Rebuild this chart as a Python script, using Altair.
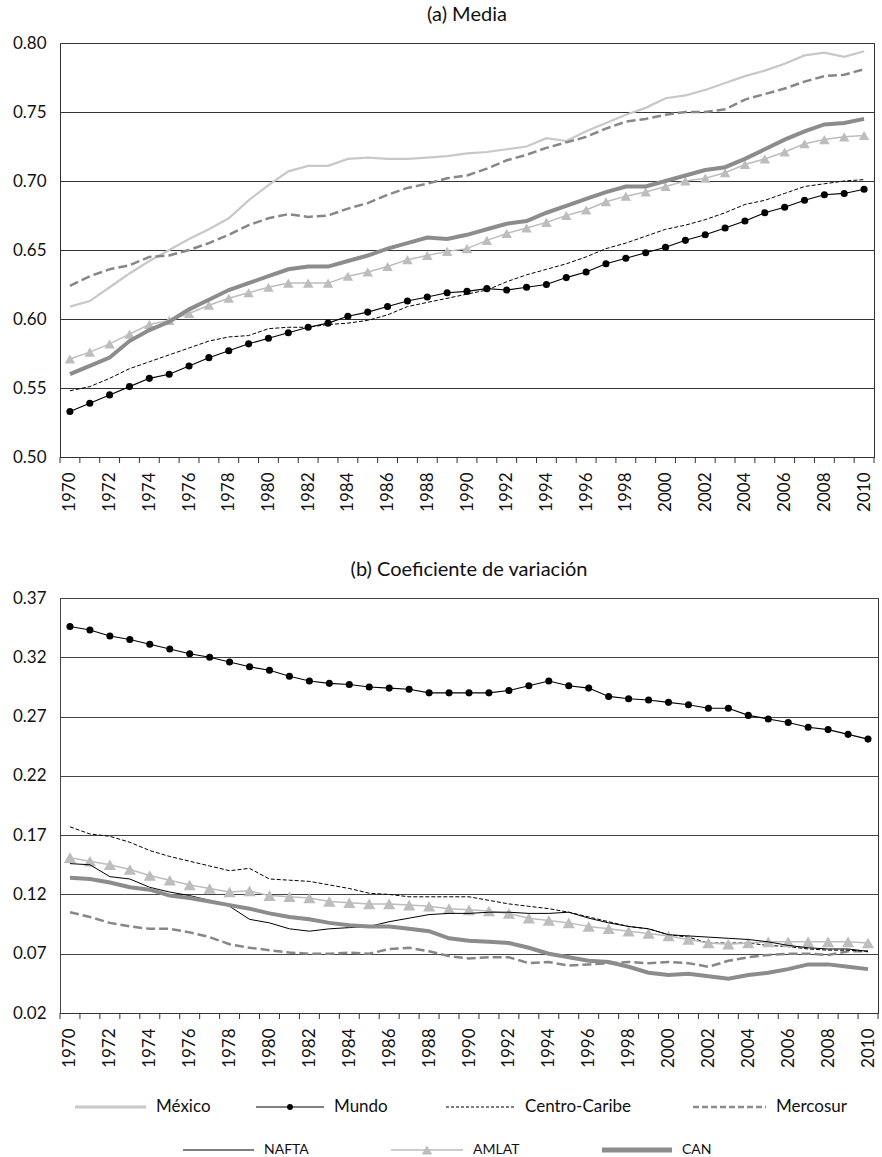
import altair as alt
import pandas as pd

FONT = "Lato"

years = list(range(1970, 2011))
year_labels = years[::2]
top_ticks = [0.50, 0.55, 0.60, 0.65, 0.70, 0.75, 0.80]
bottom_ticks = [0.02, 0.07, 0.12, 0.17, 0.22, 0.27, 0.32, 0.37]

# (a) Media
media_mexico = [0.609, 0.613, 0.623, 0.633, 0.642, 0.650, 0.658, 0.665, 0.673, 0.686,
                0.697, 0.707, 0.711, 0.711, 0.716, 0.717, 0.716, 0.716, 0.717, 0.718,
                0.720, 0.721, 0.723, 0.725, 0.731, 0.729, 0.736, 0.742, 0.748, 0.753,
                0.760, 0.762, 0.766, 0.771, 0.776, 0.780, 0.785, 0.791, 0.793, 0.790, 0.794]
media_mercosur = [0.624, 0.631, 0.636, 0.639, 0.645, 0.646, 0.650, 0.655, 0.661, 0.668,
                  0.673, 0.676, 0.674, 0.675, 0.680, 0.684, 0.690, 0.695, 0.698, 0.702,
                  0.704, 0.709, 0.715, 0.719, 0.724, 0.728, 0.732, 0.738, 0.743, 0.745,
                  0.748, 0.750, 0.750, 0.752, 0.759, 0.763, 0.767, 0.772, 0.776, 0.777, 0.781]
media_can = [0.560, 0.566, 0.572, 0.584, 0.592, 0.598, 0.607, 0.614, 0.621, 0.626,
             0.631, 0.636, 0.638, 0.638, 0.642, 0.646, 0.651, 0.655, 0.659, 0.658,
             0.661, 0.665, 0.669, 0.671, 0.677, 0.682, 0.687, 0.692, 0.696, 0.696,
             0.700, 0.704, 0.708, 0.710, 0.716, 0.723, 0.730, 0.736, 0.741, 0.742, 0.745]
media_amlat = [0.571, 0.576, 0.582, 0.589, 0.596, 0.599, 0.604, 0.610, 0.615, 0.619,
               0.623, 0.626, 0.626, 0.626, 0.631, 0.634, 0.638, 0.643, 0.646, 0.649,
               0.651, 0.657, 0.662, 0.666, 0.670, 0.675, 0.679, 0.685, 0.689, 0.692,
               0.696, 0.700, 0.702, 0.706, 0.712, 0.716, 0.721, 0.727, 0.730, 0.732, 0.733]
media_mundo = [0.533, 0.539, 0.545, 0.551, 0.557, 0.560, 0.566, 0.572, 0.577, 0.582,
               0.586, 0.590, 0.594, 0.597, 0.602, 0.605, 0.609, 0.613, 0.616, 0.619,
               0.620, 0.622, 0.621, 0.623, 0.625, 0.630, 0.634, 0.640, 0.644, 0.648,
               0.652, 0.657, 0.661, 0.666, 0.671, 0.677, 0.681, 0.686, 0.690, 0.691, 0.694]
media_cc = [0.548, 0.551, 0.557, 0.564, 0.569, 0.574, 0.579, 0.584, 0.587, 0.588,
            0.593, 0.594, 0.594, 0.596, 0.597, 0.599, 0.603, 0.609, 0.612, 0.615,
            0.618, 0.621, 0.627, 0.632, 0.636, 0.640, 0.645, 0.651, 0.655, 0.660,
            0.665, 0.668, 0.672, 0.677, 0.683, 0.686, 0.691, 0.696, 0.698, 0.700, 0.701]

# (b) Coeficiente de variación
cv_mundo = [0.346, 0.343, 0.338, 0.335, 0.331, 0.327, 0.323, 0.320, 0.316, 0.312,
            0.309, 0.304, 0.300, 0.298, 0.297, 0.295, 0.294, 0.293, 0.290, 0.290,
            0.290, 0.290, 0.292, 0.296, 0.300, 0.296, 0.294, 0.287, 0.285, 0.284,
            0.282, 0.280, 0.277, 0.277, 0.271, 0.268, 0.265, 0.261, 0.259, 0.255, 0.251]
cv_cc = [0.177, 0.171, 0.169, 0.164, 0.157, 0.152, 0.148, 0.144, 0.140, 0.142,
         0.133, 0.132, 0.131, 0.128, 0.125, 0.121, 0.120, 0.118, 0.118, 0.118,
         0.118, 0.115, 0.112, 0.110, 0.108, 0.105, 0.101, 0.097, 0.093, 0.091,
         0.086, 0.084, 0.079, 0.079, 0.079, 0.077, 0.076, 0.074, 0.073, 0.073, 0.072]
cv_amlat = [0.151, 0.148, 0.145, 0.141, 0.136, 0.132, 0.128, 0.125, 0.122, 0.123,
            0.119, 0.118, 0.117, 0.114, 0.113, 0.112, 0.112, 0.111, 0.110, 0.108,
            0.107, 0.106, 0.104, 0.100, 0.098, 0.096, 0.093, 0.091, 0.089, 0.087,
            0.085, 0.082, 0.079, 0.078, 0.079, 0.080, 0.080, 0.080, 0.080, 0.080, 0.079]
cv_nafta = [0.146, 0.145, 0.135, 0.133, 0.126, 0.122, 0.119, 0.115, 0.110, 0.099,
            0.096, 0.091, 0.089, 0.091, 0.092, 0.093, 0.097, 0.100, 0.103, 0.104,
            0.104, 0.105, 0.105, 0.104, 0.104, 0.105, 0.100, 0.096, 0.093, 0.091,
            0.086, 0.085, 0.084, 0.083, 0.082, 0.080, 0.077, 0.075, 0.074, 0.074, 0.072]
cv_can = [0.134, 0.133, 0.130, 0.126, 0.124, 0.119, 0.117, 0.114, 0.111, 0.108,
          0.104, 0.101, 0.099, 0.096, 0.094, 0.093, 0.093, 0.091, 0.089, 0.083,
          0.081, 0.080, 0.079, 0.075, 0.070, 0.067, 0.064, 0.063, 0.059, 0.054,
          0.052, 0.053, 0.051, 0.049, 0.052, 0.054, 0.057, 0.061, 0.061, 0.059, 0.057]
cv_mercosur = [0.105, 0.101, 0.096, 0.093, 0.091, 0.091, 0.088, 0.084, 0.078, 0.075,
               0.073, 0.071, 0.070, 0.070, 0.071, 0.070, 0.074, 0.075, 0.072, 0.068,
               0.066, 0.067, 0.067, 0.062, 0.063, 0.060, 0.061, 0.062, 0.063, 0.062,
               0.063, 0.062, 0.059, 0.064, 0.067, 0.069, 0.070, 0.070, 0.069, 0.072, 0.072]

# line styles per series: color, stroke width, dash, marker
STYLE = {
    "México": dict(color="#c8c8c8", width=2.2),
    "Mercosur": dict(color="#878787", width=2.5, dash=[9, 4]),
    "Centro-Caribe": dict(color="#000000", width=1.0, dash=[4, 2]),
    "NAFTA": dict(color="#000000", width=1.0),
    "AMLAT": dict(color="#bdbdbd", width=1.5, marker="triangle-up"),
    "CAN": dict(color="#8c8c8c", width=4.0),
    "Mundo": dict(color="#000000", width=1.1, marker="circle"),
}

TOP_W, TOP_H = 814, 414
BOT_W, BOT_H = 818, 415


def x_enc():
    return alt.X(
        "year:Q",
        scale=alt.Scale(domain=[years[0] - 0.5, years[-1] + 0.5], nice=False, zero=False),
        axis=alt.Axis(values=year_labels, format="d", labelAngle=270, ticks=False,
                      labelPadding=15, grid=False, title=None, domainColor="#333",
                      labelFont=FONT, labelFontSize=17, labelColor="#111"),
    )


def y_enc(domain, ticks, grid_color):
    return alt.Y(
        "value:Q",
        scale=alt.Scale(domain=domain, nice=False, zero=False),
        axis=alt.Axis(values=ticks, format=".2f", ticks=False, labelPadding=14,
                      grid=True, gridColor=grid_color, gridOpacity=1, title=None,
                      domainColor=grid_color, labelFont=FONT, labelFontSize=17,
                      labelColor="#111"),
    )


def series_layers(name, values, yfun, marker_size):
    st = STYLE[name]
    df = pd.DataFrame({"year": years, "value": values})
    base = alt.Chart(df).encode(x=x_enc(), y=yfun())
    kw = dict(color=st["color"], strokeWidth=st["width"])
    if "dash" in st:
        kw["strokeDash"] = st["dash"]
    out = [base.mark_line(**kw)]
    if st.get("marker"):
        out.append(base.mark_point(shape=st["marker"], filled=True, opacity=1,
                                   color=st["color"], size=marker_size[st["marker"]],
                                   strokeWidth=0))
    return out


def tick_layer(h):
    edges = [y - 0.5 for y in years] + [years[-1] + 0.5]
    return alt.Chart(pd.DataFrame({"year": edges})).mark_rule(
        color="#333", strokeWidth=1
    ).encode(x=x_enc(), y=alt.value(h), y2=alt.value(h + 6))


def panel_title(text):
    return alt.TitleParams(text, font=FONT, fontSize=20, fontWeight="normal",
                           color="#111", anchor="middle", offset=9)


# ---- panel (a)
top_y = lambda: y_enc([0.50, 0.80], top_ticks, "#333")
top_series = [("México", media_mexico), ("Mercosur", media_mercosur),
              ("Centro-Caribe", media_cc), ("AMLAT", media_amlat),
              ("CAN", media_can), ("Mundo", media_mundo)]
top_layers = [tick_layer(TOP_H)]
for nm, vals in top_series:
    top_layers += series_layers(nm, vals, top_y, {"circle": 50, "triangle-up": 110})
top = alt.layer(*top_layers).properties(
    width=TOP_W, height=TOP_H, title=panel_title("(a) Media"))

# ---- panel (b)
bot_y = lambda: y_enc([0.02, 0.37], bottom_ticks, "#444")
bot_series = [("Mercosur", cv_mercosur), ("Centro-Caribe", cv_cc),
              ("AMLAT", cv_amlat), ("NAFTA", cv_nafta), ("CAN", cv_can),
              ("Mundo", cv_mundo)]
bot_layers = [tick_layer(BOT_H)]
for nm, vals in bot_series:
    bot_layers += series_layers(nm, vals, bot_y, {"circle": 50, "triangle-up": 150})

# ---- legend, drawn below panel (b)
legend_rows = [
    [("México", 15, 86), ("Mundo", 196, 264), ("Centro-Caribe", 386, 455), ("Mercosur", 633, 706)],
    [("NAFTA", 123, 194), ("AMLAT", 331, 403), ("CAN", 542, 612)],
]
legend_style = {
    "México": dict(color="#c8c8c8", width=3),
    "Mundo": dict(color="#000000", width=1),
    "Centro-Caribe": dict(color="#000000", width=1, dash=[3, 2]),
    "Mercosur": dict(color="#8c8c8c", width=2.5, dash=[6, 3]),
    "NAFTA": dict(color="#555555", width=1.5),
    "AMLAT": dict(color="#bdbdbd", width=1.5),
    "CAN": dict(color="#8c8c8c", width=5),
}
legend_marker = {"Mundo": ("circle", "#000000", 35), "AMLAT": ("triangle-up", "#bdbdbd", 110)}
row_y = [BOT_H + 94, BOT_H + 137]
row_font = [17, 14]
for r, row in enumerate(legend_rows):
    yy = row_y[r]
    for name, x0, x1 in row:
        src = alt.Chart(pd.DataFrame({"label": [name]}))
        ls = legend_style[name]
        kw = dict(color=ls["color"], strokeWidth=ls["width"])
        if "dash" in ls:
            kw["strokeDash"] = ls["dash"]
        bot_layers.append(src.mark_rule(**kw).encode(
            x=alt.value(x0), x2=alt.value(x1), y=alt.value(yy)))
        if name in legend_marker:
            shp, col, sz = legend_marker[name]
            bot_layers.append(src.mark_point(shape=shp, filled=True, opacity=1, color=col,
                                             size=sz, strokeWidth=0).encode(
                x=alt.value((x0 + x1) / 2), y=alt.value(yy)))
        bot_layers.append(src.mark_text(align="left", baseline="middle", font=FONT,
                                        fontSize=row_font[r], color="#111").encode(
            x=alt.value(x1 + 10), y=alt.value(yy), text="label:N"))

bottom = alt.layer(*bot_layers).properties(
    width=BOT_W, height=BOT_H, title=panel_title("(b) Coeficiente de variación"))

chart = alt.vconcat(top, bottom, spacing=47).properties(
    padding={"left": 11, "top": 4, "right": 0, "bottom": 0}
).configure_view(stroke="#333", strokeWidth=1)

chart.save("out.html", embed_options={"renderer": "svg", "actions": False})
